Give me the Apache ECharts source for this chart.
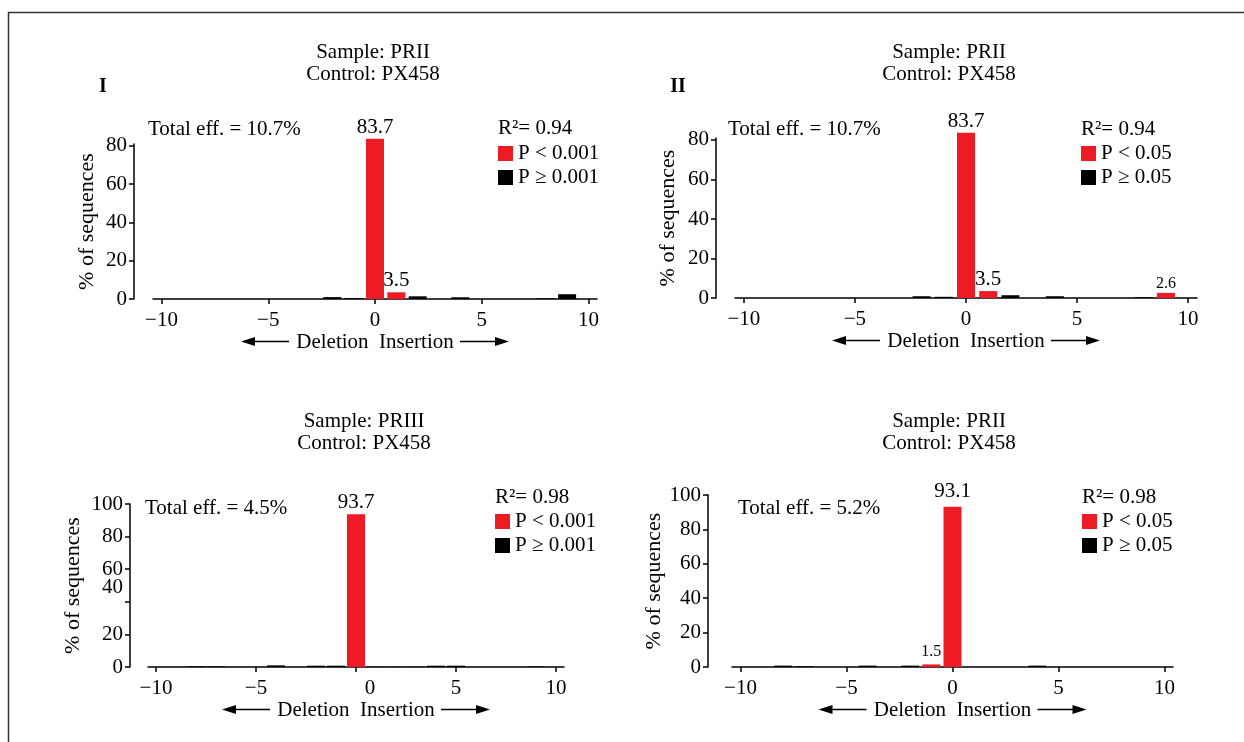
<!DOCTYPE html>
<html>
<head>
<meta charset="utf-8">
<script src="https://cdn.jsdelivr.net/npm/echarts@6/dist/echarts.min.js"></script>
<style>
html, body { margin: 0; padding: 0; background: #fff; }
#chart { width: 1244px; height: 742px; }
</style>
</head>
<body>
<div id="chart"></div>
<script>
// ---- data ----
const xTicks = [-10, -5, 0, 5, 10];
const yTicksTop = [0, 20, 40, 60, 80];
const yTicksBottom = [0, 20, 40, 60, 80, 100];

const titles = [
  'Sample: PRII\nControl: PX458',
  'Sample: PRII\nControl: PX458',
  'Sample: PRIII\nControl: PX458',
  'Sample: PRII\nControl: PX458'
];
const panelTags = ['I', 'II', '', ''];
const totalEff = ['Total eff. = 10.7%', 'Total eff. = 10.7%', 'Total eff. = 4.5%', 'Total eff. = 5.2%'];
const rSquared = ['0.94', '0.94', '0.98', '0.98'];
const pCut = ['0.001', '0.05', '0.001', '0.05'];

// [indel size, % of sequences]
const red1 = [[0, 83.7], [1, 3.5]];
const black1 = [[-2, 1.0], [-1, 0.5], [2, 1.4], [4, 0.9], [8, 0.4], [9, 2.5]];
const red2 = [[0, 83.7], [1, 3.5], [9, 2.6]];
const black2 = [[-2, 0.9], [-1, 0.6], [2, 1.4], [4, 0.9], [8, 0.4]];
const red3 = [[0, 93.7]];
const black3 = [[-8, 0.4], [-7, 0.4], [-4, 1.0], [-2, 0.8], [-1, 0.8], [1, 0.2], [2, 0.2], [3, 0.2], [4, 0.8], [5, 0.8], [9, 0.3]];
const red4 = [[-1, 1.5], [0, 93.1]];
const black4 = [[-8, 0.8], [-7, 0.4], [-4, 0.8], [-2, 0.8], [4, 0.8]];

const redData = [red1, red2, red3, red4];
const blackData = [black1, black2, black3, black4];

// ---- layout ----
const FONT = "'Liberation Serif', 'Times New Roman', serif";
const FS = 21;
const RED = '#ED1C24';
const panels = [
  { left: 153, top: 144, width: 444, height: 155, yMax: 81, yTicks: yTicksTop, yOff: 19, nameGap: 36,
    titleX: 373, titleY: 41, tagX: 103, tagY: 87, effX: 148, effY: 129, legX: 498, rY: 128, legY: 143, labDist: 1 },
  { left: 735, top: 138, width: 462, height: 160, yMax: 81, yTicks: yTicksTop, yOff: 19, nameGap: 37,
    titleX: 949, titleY: 41, tagX: 678, tagY: 87, effX: 728, effY: 129, legX: 1081, rY: 129, legY: 143, labDist: 1 },
  { left: 148, top: 504, width: 416, height: 163, yMax: 100, yTicks: yTicksBottom, yOff: 18, nameGap: 46,
    titleX: 364, titleY: 410, effX: 145, effY: 508, legX: 495, rY: 497, legY: 511, labDist: 1, quirk: true },
  { left: 732, top: 495, width: 441, height: 172, yMax: 100, yTicks: yTicksBottom, yOff: 24, nameGap: 39,
    titleX: 949, titleY: 410, effX: 738, effY: 508, legX: 1082, rY: 497, legY: 511, labDist: 5 }
];

const chart = echarts.init(document.getElementById('chart'));

const grids = [], xAxes = [], yAxes = [], series = [], legends = [], titleOpts = [];
const graphics = [
  { type: 'polyline', silent: true, shape: { points: [[8.5, 760], [8.5, 12.5], [1260, 12.5]] },
    style: { stroke: '#333', lineWidth: 1.5, fill: null } }
];

panels.forEach((p, i) => {
  grids.push({ left: p.left, top: p.top, width: p.width, height: p.height });

  xAxes.push({
    gridIndex: i, type: 'value', min: -10.4, max: 10.4,
    name: 'Deletion  Insertion', nameLocation: 'middle', nameGap: 32,
    nameTextStyle: { fontSize: FS, fontFamily: FONT, color: '#000' },
    axisLine: { show: true, onZero: false, lineStyle: { color: '#000', width: 1.5 } },
    axisTick: { show: true, length: 5, customValues: xTicks, lineStyle: { color: '#000', width: 1.5 } },
    axisLabel: {
      customValues: xTicks, margin: 11, fontSize: FS, fontFamily: FONT, color: '#000',
      formatter: v => (p.quirk && v === 0) ? '{sh|0}' : String(v).replace('-', '\u2212'),
      rich: { sh: { fontSize: FS, fontFamily: FONT, color: '#000', padding: [0, 0, 0, 28] } }
    },
    splitLine: { show: false }
  });

  yAxes.push({
    gridIndex: i, type: 'value', min: 0, max: p.yMax, offset: p.yOff,
    name: '% of sequences', nameLocation: 'middle', nameGap: p.nameGap,
    nameTextStyle: { fontSize: 22, fontFamily: FONT, color: '#000' },
    axisLine: { show: true, onZero: false, lineStyle: { color: '#000', width: 1.5 } },
    axisTick: { show: true, length: 5, customValues: p.yTicks, lineStyle: { color: '#000', width: 1.5 } },
    axisLabel: {
      customValues: p.yTicks, margin: 7, fontSize: FS, fontFamily: FONT, color: '#000',
      formatter: v => (p.quirk && v === 40) ? '{up|40}' : String(v),
      rich: { up: { fontSize: FS, fontFamily: FONT, color: '#000', padding: [0, 0, 28, 0] } }
    },
    splitLine: { show: false }
  });

  const redName = 'P < ' + pCut[i];
  const blackName = 'P \u2265 ' + pCut[i];

  series.push({
    type: 'bar', name: redName, xAxisIndex: i, yAxisIndex: i,
    barWidth: 18, barGap: '-100%', clip: false,
    itemStyle: { color: RED },
    label: { show: true, position: 'top', distance: p.labDist, fontFamily: FONT, color: '#000',
      formatter: d => d.value[1] },
    data: redData[i].map(d => ({ value: d, label: { fontSize: d[1] < 3 ? 16 : FS } }))
  });
  series.push({
    type: 'bar', name: blackName, xAxisIndex: i, yAxisIndex: i,
    barWidth: 18, barGap: '-100%', clip: false,
    itemStyle: { color: '#000' },
    data: blackData[i]
  });

  legends.push({
    data: [redName, blackName], orient: 'vertical', left: p.legX, top: p.legY,
    icon: 'rect', itemWidth: 15, itemHeight: 15, itemGap: 3, padding: 0, selectedMode: false,
    textStyle: { fontSize: FS, fontFamily: FONT, color: '#000', lineHeight: 21 }
  });

  titleOpts.push({
    text: titles[i], left: p.titleX, top: p.titleY, textAlign: 'center', padding: 0,
    textStyle: { fontSize: FS, fontWeight: 'normal', fontFamily: FONT, color: '#000', lineHeight: 22 }
  });

  const txt = (text, x, y, extra) => graphics.push({
    type: 'text', silent: true,
    style: Object.assign({ text: text, x: x, y: y, font: FS + 'px ' + FONT, fill: '#000',
      textAlign: 'left', textVerticalAlign: 'middle' }, extra || {})
  });
  if (panelTags[i]) txt(panelTags[i], p.tagX, p.tagY, { font: 'bold 20px ' + FONT, textAlign: 'center' });
  txt(totalEff[i], p.effX, p.effY);
  txt('R\u00b2= ' + rSquared[i], p.legX, p.rY);

  // arrows either side of the axis name
  const cx = p.left + p.width / 2;
  const ay = p.top + p.height + 42.5;
  const line = (x1, x2) => graphics.push({
    type: 'line', silent: true, shape: { x1: x1, y1: ay, x2: x2, y2: ay },
    style: { stroke: '#000', lineWidth: 1.5 }
  });
  const head = (tip, dir) => graphics.push({
    type: 'polygon', silent: true,
    shape: { points: [[tip, ay], [tip + dir * 14, ay - 4.5], [tip + dir * 14, ay + 4.5]] },
    style: { fill: '#000' }
  });
  line(cx - 130, cx - 86); head(cx - 134, 1);
  line(cx + 85, cx + 130); head(cx + 134, -1);
});

chart.setOption({
  backgroundColor: '#fff',
  animation: false,
  title: titleOpts,
  legend: legends,
  grid: grids,
  xAxis: xAxes,
  yAxis: yAxes,
  series: series,
  graphic: graphics
});
</script>
</body>
</html>
